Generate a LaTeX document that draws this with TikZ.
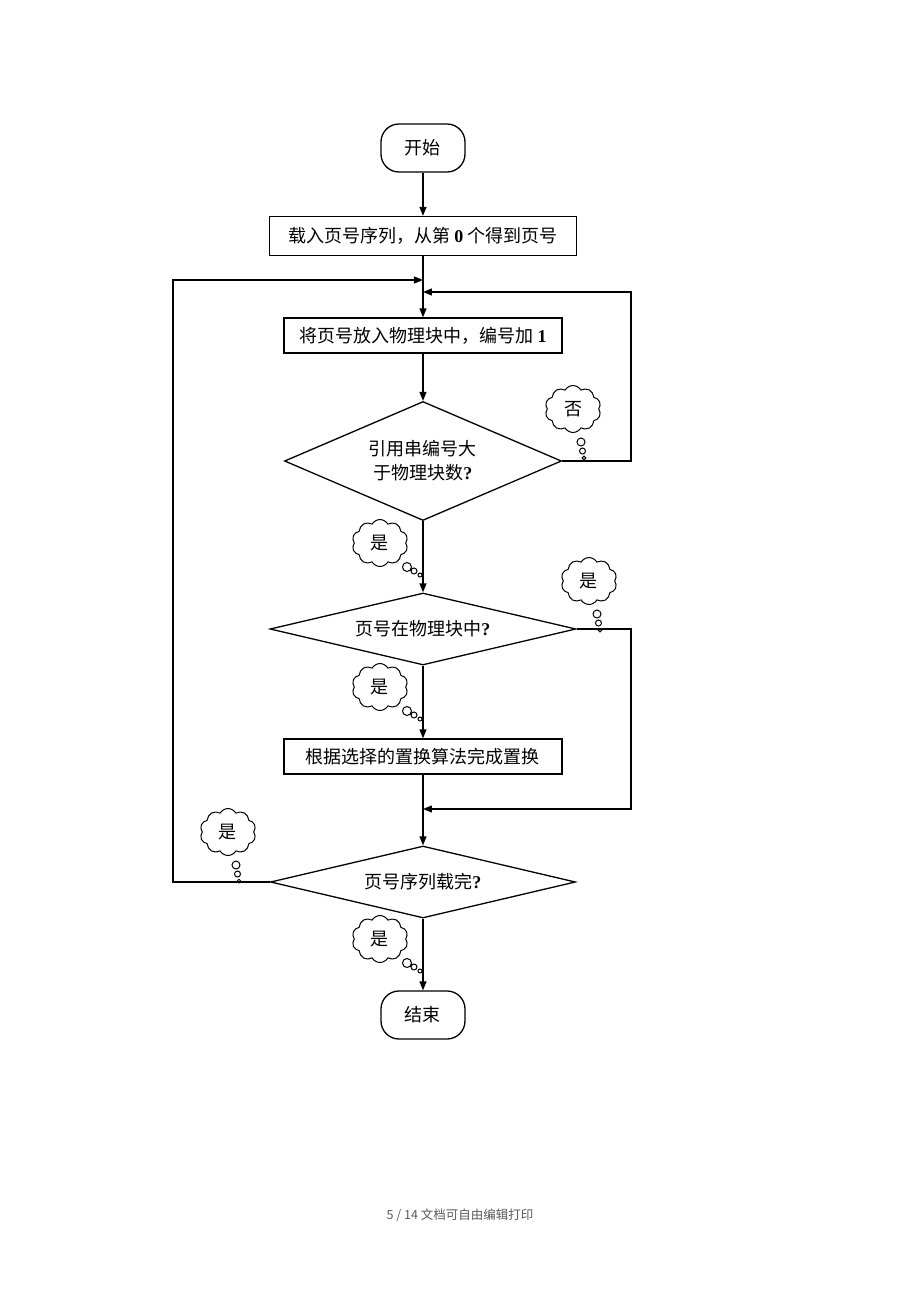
\documentclass[tikz,border=0pt]{standalone}
\usepackage{fontspec}
\setmainfont{Noto Sans CJK SC}
\newfontfamily\tnr{Liberation Serif}
\newfontfamily\foot{Noto Sans CJK SC}
\usepackage{tikz}
\usetikzlibrary{shapes.geometric, shapes.symbols, arrows.meta}
\tikzstyle{startstop} = [rectangle, rounded corners=18pt, minimum width=84pt, minimum height=48pt, text centered, draw=black, line width=1.3pt]
\tikzstyle{process} = [rectangle, minimum width=278pt, minimum height=35pt, text centered, draw=black, line width=1.3pt]
\tikzstyle{decision} = [diamond, aspect=2.3, inner sep=0pt, minimum width=277pt, minimum height=119pt, align=center, draw=black, line width=1.3pt]
\tikzstyle{bubble} = [cloud, cloud puffs=10, cloud puff arc=120, aspect=1.2, inner sep=0pt, minimum width=56pt, minimum height=47pt, draw=black, line width=1pt]
\tikzstyle{arrow} = [line width=1.3pt, -{Triangle[length=9pt,width=7pt]}]

\begin{document}
\begin{tikzpicture}[node distance=125.5pt, font=\fontsize{18pt}{24pt}\selectfont]
\useasboundingbox (-423pt,148pt) rectangle (497pt,-1154pt);
\node (start) [startstop] {开始};
\node (in1) [process, below of=start, yshift=37.5pt, minimum width=307pt, minimum height=39pt] {载入页号序列，从第 {\tnr\bfseries 0} 个得到页号};
\node (pro1) [process, below of=in1, yshift=26pt] {将页号放入物理块中，编号加 {\tnr\bfseries 1}};
\node (dec1) [decision, below of=pro1] {引用串编号大\\于物理块数{\tnr\bfseries ?}};
\node (dec2) [decision, below of=dec1, yshift=-42.5pt, minimum width=306pt, minimum height=72pt, aspect=4.25] {页号在物理块中{\tnr\bfseries ?}};
\node (pro2) [process, below of=dec2, yshift=-2pt] {根据选择的置换算法完成置换};
\node (dec3) [decision, below of=pro2, minimum width=305pt, minimum height=72pt, aspect=4.25] {页号序列载完{\tnr\bfseries ?}};
\node (stop) [startstop, below of=dec3, yshift=-7.5pt] {结束};

% where the loops come back in
\path (in1) ++(0,-44pt) coordinate (join1);
\path (in1) ++(0,-56pt) coordinate (join2);
\path (pro2) ++(0,-52.5pt) coordinate (join3);
\coordinate (left) at (-250pt,0);
\coordinate (right) at (208pt,0);

\draw [arrow] (start) -- (in1);
\draw [arrow] (in1) -- (pro1);
\draw [arrow] (pro1) -- (dec1);
\draw [arrow] (dec1) -- (dec2);
\draw [arrow] (dec2) -- (pro2);
\draw [arrow] (pro2) -- (dec3);
\draw [arrow] (dec3) -- (stop);
\draw [arrow] (dec1.east) -| (right |- join2) -- (join2);
\draw [arrow] (dec2.east) -| (right |- join3) -- (join3);
\draw [arrow] (dec3.west) -| (left |- join1) -- (join1);

% thought bubbles
\node (no1) [bubble] at (150pt,-261pt) {否};
\node (yes1) [bubble] at (-43pt,-395pt) {是};
\node (yes2) [bubble] at (-43pt,-539pt) {是};
\node (yes3) [bubble] at (166pt,-433pt) {是};
\node (yes4) [bubble] at (-43pt,-791pt) {是};
\node (yes5) [bubble] at (-195pt,-684pt) {是};
\foreach \b in {yes1,yes2,yes4}
  \draw [line width=1pt] (\b) ++(27pt,-24pt) circle (4.5pt) ++(7pt,-4pt) circle (3pt) ++(6pt,-4pt) circle (2pt);
\foreach \b in {no1,yes3,yes5}
  \draw [line width=1pt] (\b) ++(8pt,-33pt) circle (4pt) ++(1.5pt,-9pt) circle (3pt) ++(1.5pt,-7pt) circle (1.8pt);

\node (page) at (37pt,-1067pt) [text=black!65, font=\fontsize{12.5pt}{15pt}\foot] {5 / 14 文档可自由编辑打印};
\end{tikzpicture}
\end{document}
